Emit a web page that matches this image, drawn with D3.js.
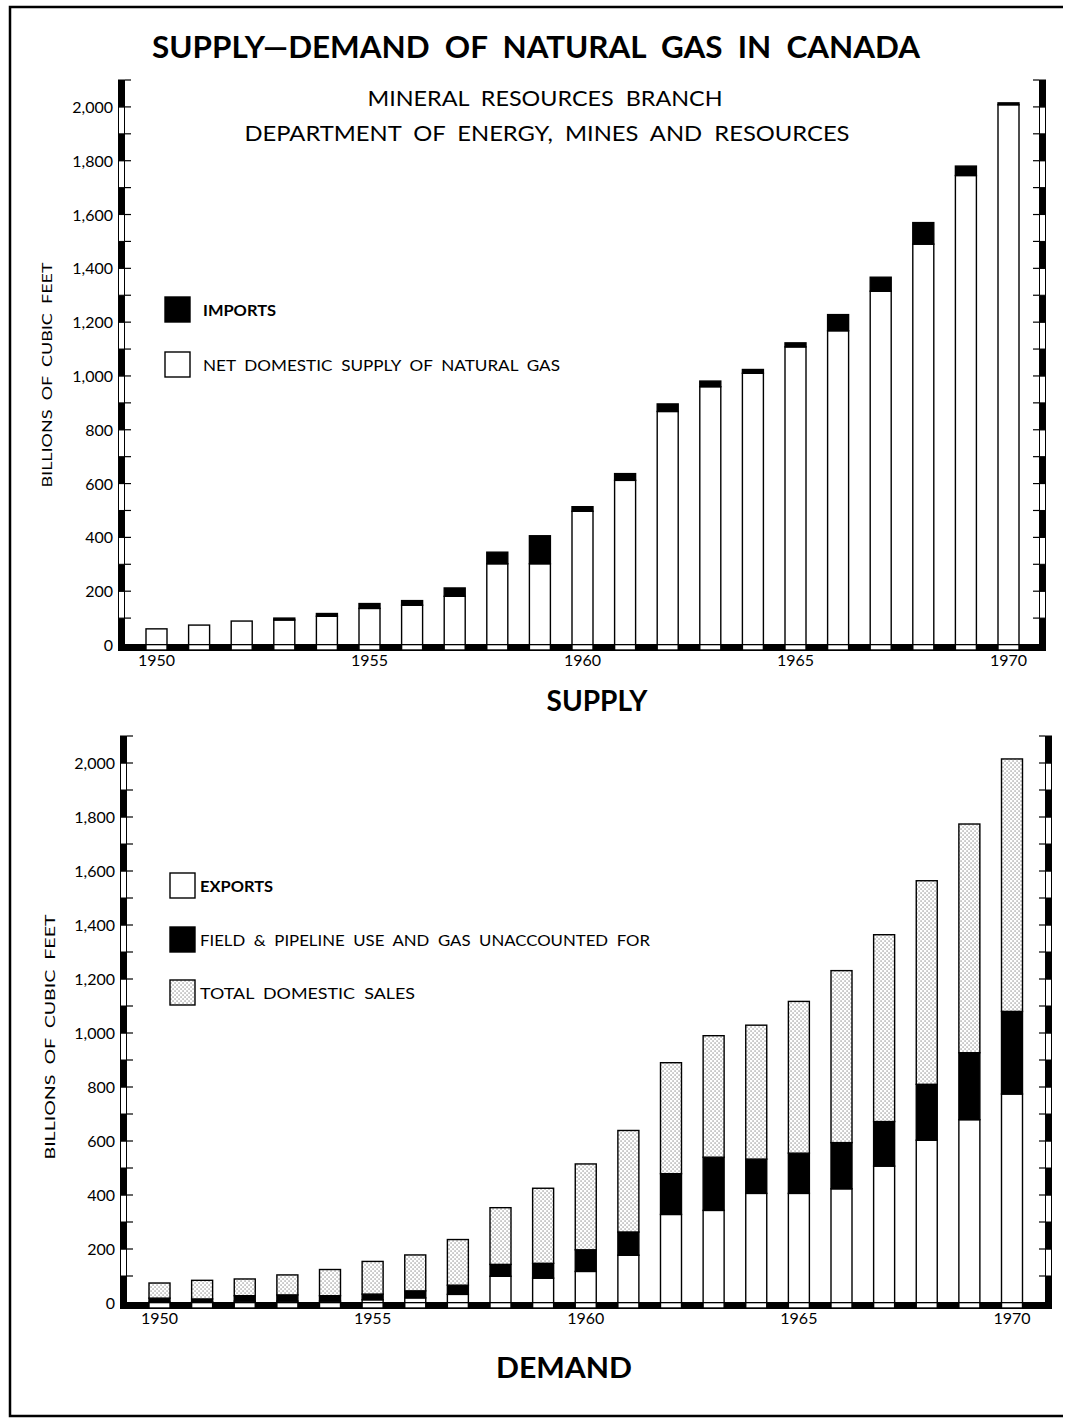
<!DOCTYPE html>
<html>
<head>
<meta charset="utf-8">
<script src="https://d3js.org/d3.v7.min.js"></script>
<style>
  body { margin: 0; background: #fff; }
  svg { display: block; }
  text { font-family: Lato, "DejaVu Sans", sans-serif; fill: #000; white-space: pre; }
</style>
</head>
<body>
<svg width="1065" height="1418"></svg>
<script>
// ---- data (billions of cubic feet) ----
var years = [1950,1951,1952,1953,1954,1955,1956,1957,1958,1959,1960,1961,1962,1963,1964,1965,1966,1967,1968,1969,1970];
var yearLabels = [1950, 1955, 1960, 1965, 1970];
var yTicks = [0,200,400,600,800,1000,1200,1400,1600,1800,2000];

// supply
var netDomestic = [60,74,89,93,107,136,148,181,302,302,497,612,868,960,1010,1108,1168,1315,1490,1745,2008];
var imports     = [0,0,0,7,10,18,17,31,43,104,17,25,28,21,14,15,60,52,80,35,7];

// demand
var exportsGas  = [3,5,7,7,7,12,19,32,99,92,117,177,328,343,406,406,423,507,603,679,774];
var fieldUse    = [15,10,20,23,20,21,26,34,44,55,80,86,151,197,127,149,171,165,207,248,306];
var domSales    = [56,69,62,74,97,121,133,169,210,278,318,376,411,450,496,562,637,692,754,847,935];

var svg = d3.select('svg');

// dotted texture for domestic sales
var defs = svg.append('defs');
var pat = defs.append('pattern').attr('id','dots')
  .attr('patternUnits','userSpaceOnUse').attr('width',4).attr('height',4);
pat.append('rect').attr('width',4).attr('height',4).attr('fill','#fff');
pat.append('rect').attr('x',0.5).attr('y',0.5).attr('width',1.1).attr('height',1.1).attr('fill','#666');
pat.append('rect').attr('x',2.5).attr('y',2.5).attr('width',1.1).attr('height',1.1).attr('fill','#666');

// page frame (left, top, bottom)
svg.append('path')
  .attr('d','M1063,7 L10,7 L10,1416 L1063,1416')
  .attr('fill','none').attr('stroke','#000').attr('stroke-width',2.5);

// titles
svg.append('text').attr('x',536).attr('y',58).attr('text-anchor','middle')
  .attr('font-size',31).attr('font-weight','bold')
  .attr('textLength',768).attr('lengthAdjust','spacingAndGlyphs')
  .text('SUPPLY\u2014DEMAND  OF  NATURAL  GAS  IN  CANADA');
svg.append('text').attr('x',545).attr('y',106).attr('text-anchor','middle')
  .attr('font-size',21).attr('textLength',355).attr('lengthAdjust','spacingAndGlyphs')
  .text('MINERAL  RESOURCES  BRANCH');
svg.append('text').attr('x',547).attr('y',141).attr('text-anchor','middle')
  .attr('font-size',21).attr('textLength',605).attr('lengthAdjust','spacingAndGlyphs')
  .text('DEPARTMENT  OF  ENERGY,  MINES  AND  RESOURCES');

function panel(opt) {
  var x = d3.scaleLinear().domain([1950, 1970]).range(opt.xr);
  var y = d3.scaleLinear().domain([0, 2100]).range(opt.yr);
  var bw = 21, band = 7;
  var g = svg.append('g');
  var y0 = y(0);

  // stacked bars
  var layers = opt.layers;
  years.forEach(function(yr, i) {
    var base = 0;
    layers.forEach(function(l) {
      var v = l.values[i];
      if (v > 0) {
        g.append('rect')
          .attr('x', x(yr) - bw/2).attr('width', bw)
          .attr('y', y(base + v)).attr('height', y(base) - y(base + v))
          .attr('fill', l.fill).attr('stroke', '#000').attr('stroke-width', 1.4);
      }
      base += v;
    });
  });

  // horizontal axis band with white notches under the bars
  g.append('rect').attr('x', opt.leftX).attr('y', y0 - 1)
    .attr('width', opt.rightX + band - opt.leftX).attr('height', band).attr('fill', '#000');
  g.selectAll('.notch').data(years).enter().append('rect')
    .attr('x', function(d) { return x(d) - bw/2 + 0.7; })
    .attr('y', y0 + 0.3).attr('width', bw - 1.4).attr('height', band - 3)
    .attr('fill', '#fff');

  // vertical axis bands: alternating black / white every 100
  var segs = d3.range(0, 2100, 100);
  [opt.leftX, opt.rightX].forEach(function(ax, k) {
    g.selectAll('.seg' + k).data(segs).enter().append('rect')
      .attr('x', ax + 0.5).attr('width', band - 1)
      .attr('y', function(d) { return y(d + 100); })
      .attr('height', function(d) { return y(d) - y(d + 100); })
      .attr('fill', function(d) { return (d / 100) % 2 === 0 ? '#000' : '#fff'; })
      .attr('stroke', '#000').attr('stroke-width', 1);
    var dir = k === 0 ? 1 : -1;
    var edge = k === 0 ? ax + band : ax;
    g.selectAll('.tick' + k).data(d3.range(100, 2200, 100)).enter().append('line')
      .attr('x1', edge).attr('x2', edge + dir * 6)
      .attr('y1', function(d) { return y(d); }).attr('y2', function(d) { return y(d); })
      .attr('stroke', '#000').attr('stroke-width', 1.2);
  });

  // tick labels
  g.selectAll('.ylab').data(yTicks).enter().append('text')
    .attr('x', opt.leftX - 5).attr('y', function(d) { return y(d) + 6; })
    .attr('text-anchor', 'end').attr('font-size', 16)
    .text(function(d) { return d3.format(',')(d); });
  g.selectAll('.xlab').data(yearLabels).enter().append('text')
    .attr('x', function(d) { return x(d); }).attr('y', y0 + 21)
    .attr('text-anchor', 'middle').attr('font-size', 16)
    .text(function(d) { return d; });

  // axis title
  g.append('text')
    .attr('transform', 'translate(' + opt.titleX + ',' + opt.titleY + ') rotate(-90)')
    .attr('text-anchor', 'middle').attr('font-size', 13)
    .attr('textLength', opt.titleLen).attr('lengthAdjust', 'spacingAndGlyphs')
    .text('BILLIONS  OF  CUBIC  FEET');

  // legend
  opt.legend.forEach(function(l) {
    g.append('rect').attr('x', l.x).attr('y', l.y).attr('width', 25).attr('height', 25)
      .attr('fill', l.fill).attr('stroke', '#000').attr('stroke-width', 1.4);
    g.append('text').attr('x', l.x + 35 + (l.dx || 0)).attr('y', l.y + 19)
      .attr('font-size', 15).attr('font-weight', l.bold ? 'bold' : 'normal')
      .attr('textLength', l.len).attr('lengthAdjust', 'spacingAndGlyphs')
      .text(l.label);
  });

  // panel caption
  g.append('text').attr('x', opt.capX).attr('y', opt.capY).attr('text-anchor', 'middle')
    .attr('font-size', 29).attr('font-weight', 'bold')
    .attr('textLength', opt.capLen).attr('lengthAdjust', 'spacingAndGlyphs')
    .text(opt.caption);
}

panel({
  xr: [156.5, 1008.5], yr: [645, 80], leftX: 118, rightX: 1039,
  layers: [{values: netDomestic, fill: '#fff'}, {values: imports, fill: '#000'}],
  titleX: 52, titleY: 375, titleLen: 225,
  legend: [
    {x: 165, y: 297, fill: '#000', label: 'IMPORTS', len: 73, bold: true, dx: 3},
    {x: 165, y: 352, fill: '#fff', label: 'NET  DOMESTIC  SUPPLY  OF  NATURAL  GAS', len: 357, dx: 3}
  ],
  caption: 'SUPPLY', capX: 597, capY: 711, capLen: 101
});

panel({
  xr: [159.5, 1012], yr: [1303, 736], leftX: 120, rightX: 1045,
  layers: [{values: exportsGas, fill: '#fff'}, {values: fieldUse, fill: '#000'}, {values: domSales, fill: 'url(#dots)'}],
  titleX: 55, titleY: 1037, titleLen: 245,
  legend: [
    {x: 170, y: 873, fill: '#fff', label: 'EXPORTS', len: 73, bold: true, dx: -5},
    {x: 170, y: 927, fill: '#000', label: 'FIELD  &  PIPELINE  USE  AND  GAS  UNACCOUNTED  FOR', len: 450, dx: -5},
    {x: 170, y: 980, fill: 'url(#dots)', label: 'TOTAL  DOMESTIC  SALES', len: 215, dx: -5}
  ],
  caption: 'DEMAND', capX: 564, capY: 1378, capLen: 136
});
</script>
</body>
</html>
